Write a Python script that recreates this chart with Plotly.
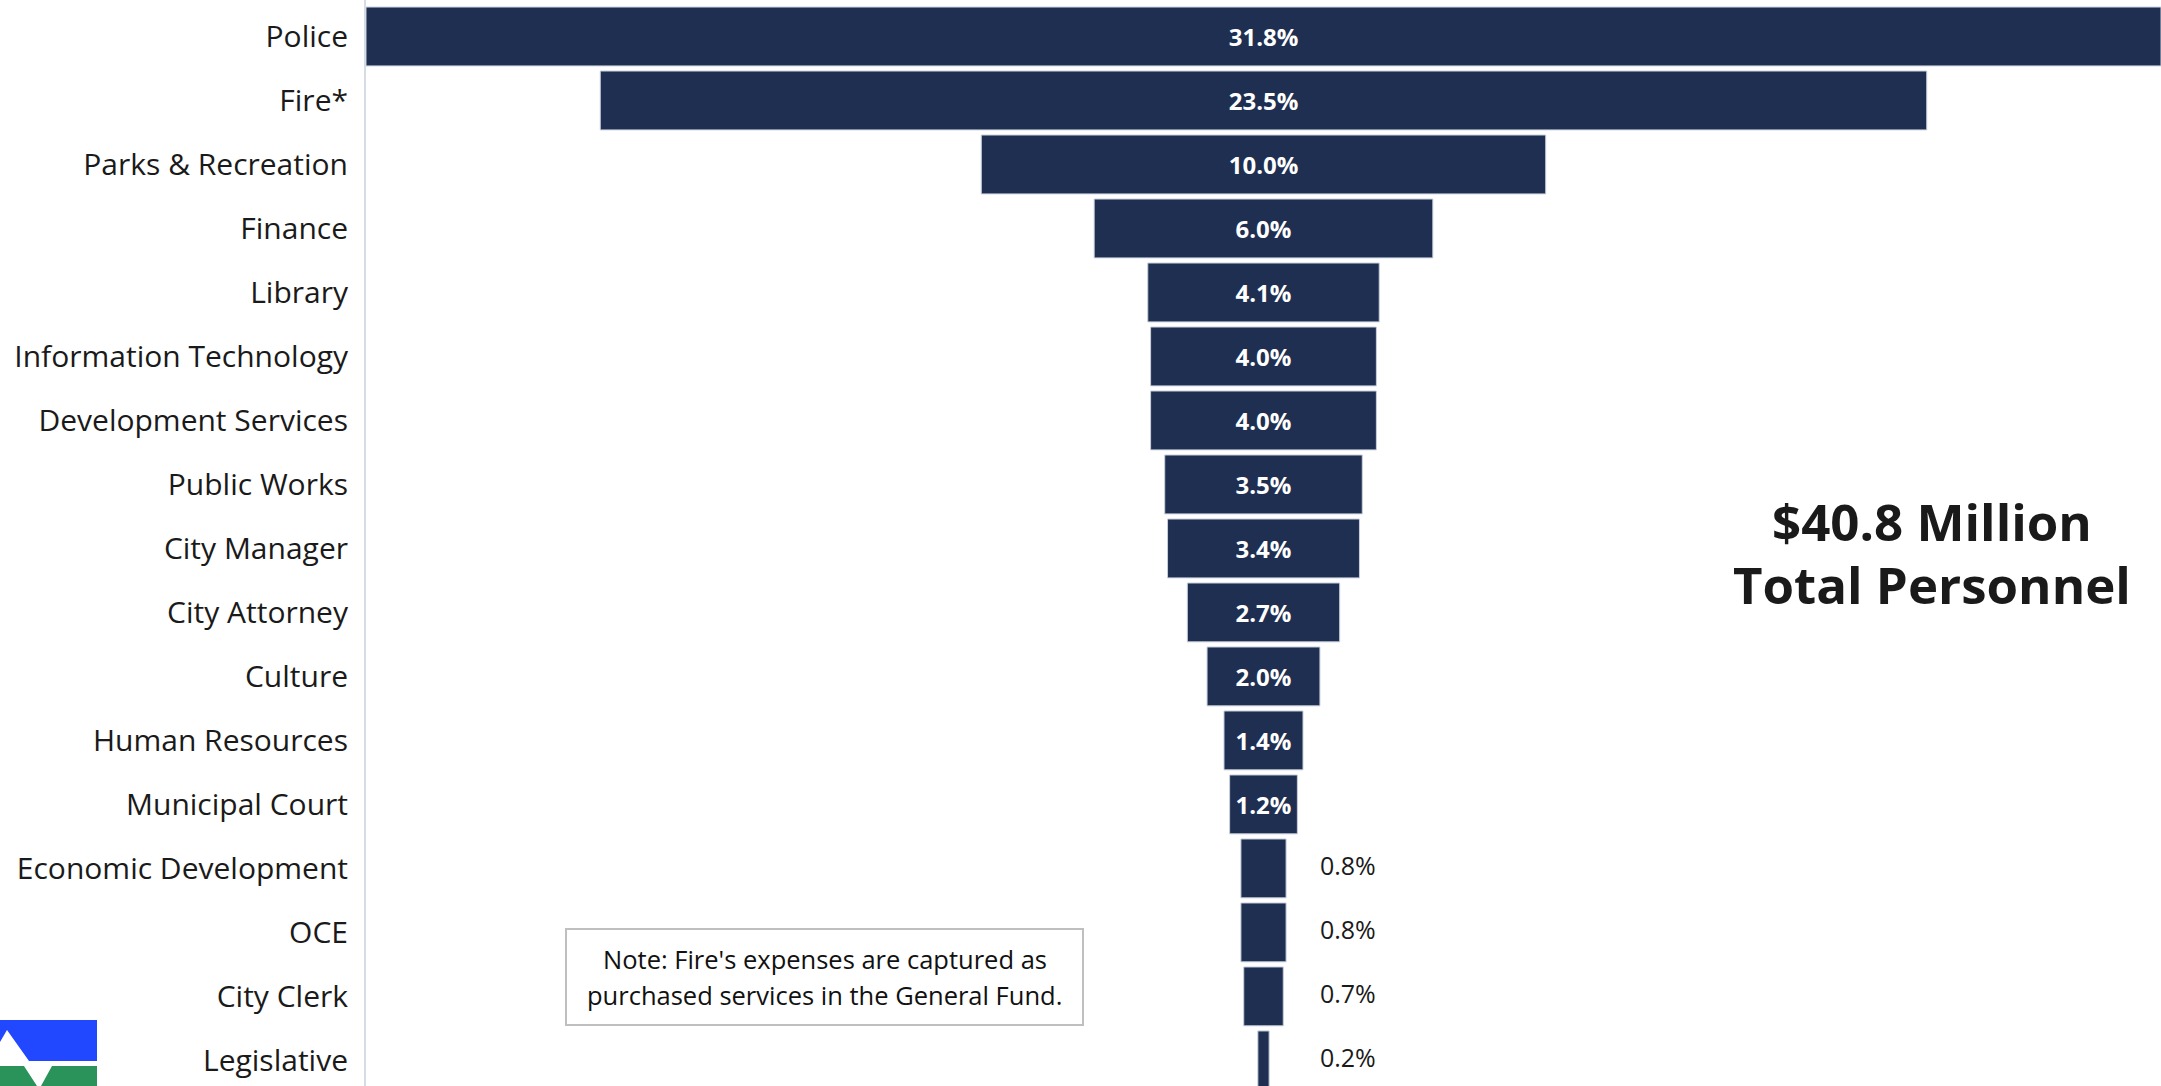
import plotly.graph_objects as go

W, H = 2161, 1086

departments = ["Police", "Fire*", "Parks & Recreation", "Finance", "Library",
               "Information Technology", "Development Services", "Public Works",
               "City Manager", "City Attorney", "Culture", "Human Resources",
               "Municipal Court", "Economic Development", "OCE", "City Clerk",
               "Legislative"]
share_pct = [31.8, 23.5, 10.0, 6.0, 4.1, 4.0, 4.0, 3.5, 3.4, 2.7, 2.0, 1.4,
             1.2, 0.8, 0.8, 0.7, 0.2]
inside_threshold = 1.0

total_lines = ["$40.8 Million", "Total Personnel"]
note_lines = ["Note: Fire's expenses are captured as",
              "purchased services in the General Fund."]

BAR = "#1F2F52"
FONT = "Open Sans"

labels = [f"{v:.1f}%" for v in share_pct]
inside_text = [t if v > inside_threshold else "" for t, v in zip(labels, share_pct)]
small_idx = [i for i, v in enumerate(share_pct) if v <= inside_threshold]

fig = go.Figure()
fig.add_trace(go.Bar(
    y=departments, x=share_pct, base=[-v / 2 for v in share_pct],
    orientation="h",
    marker=dict(color=BAR, line=dict(color="#c9d0dc", width=1)),
    text=inside_text, textposition="inside", insidetextanchor="middle",
    textangle=0, constraintext="none",
    insidetextfont=dict(family=FONT, size=24, color="white", weight=700),
    hoverinfo="skip", showlegend=False,
))
fig.add_trace(go.Scatter(
    y=[departments[i] for i in small_idx],
    x=[1.0 for _ in small_idx],
    text=[labels[i] for i in small_idx],
    mode="text", textposition="middle right",
    textfont=dict(family=FONT, size=25, color="#1a1a1a"),
    hoverinfo="skip", showlegend=False,
))

def px_path(points):
    s = ""
    for k, (x, y) in enumerate(points):
        s += ("M" if k == 0 else "L") + f"{x / W:.5f},{1 - y / H:.5f} "
    return s + "Z"

shapes = [
    # note box
    dict(type="rect", xref="paper", yref="paper",
         x0=566 / W, x1=1083 / W, y0=1 - 1025 / H, y1=1 - 929 / H,
         line=dict(color="#bfbfbf", width=2), fillcolor="white", layer="above"),
    # logo
    dict(type="path", xref="paper", yref="paper",
         path=px_path([(0, 1020), (97, 1020), (97, 1062), (0, 1062)]),
         fillcolor="#2148FF", line=dict(width=0), layer="above"),
    dict(type="path", xref="paper", yref="paper",
         path=px_path([(0, 1066), (97, 1066), (97, 1086), (0, 1086)]),
         fillcolor="#2A935A", line=dict(width=0), layer="above"),
    dict(type="path", xref="paper", yref="paper",
         path=px_path([(0, 1042), (7, 1030), (29, 1061), (97, 1061), (97, 1066),
                       (52, 1066), (41, 1086), (37, 1086), (22, 1063), (0, 1066)]),
         fillcolor="white", line=dict(width=0), layer="above"),
]

annotations = []
for line, ypix in zip(total_lines, [521, 584]):
    annotations.append(dict(xref="paper", yref="paper", x=1932 / W, y=1 - ypix / H,
                            xanchor="center", yanchor="middle",
                            text=f"<b>{line}</b>", showarrow=False, align="center",
                            font=dict(family=FONT, size=51, color="#1a1a1a")))
for line, ypix in zip(note_lines, [959, 995]):
    annotations.append(dict(xref="paper", yref="paper", x=824.5 / W, y=1 - ypix / H,
                            xanchor="center", yanchor="middle",
                            text=line, showarrow=False, align="center",
                            font=dict(family=FONT, size=25.5, color="#111111")))

fig.update_layout(
    width=W, height=H, margin=dict(l=0, r=0, t=0, b=0),
    paper_bgcolor="white", plot_bgcolor="white",
    bargap=0.08, barmode="overlay",
    xaxis=dict(domain=[366 / W, 1], range=[-15.9, 15.9], visible=False,
               fixedrange=True),
    yaxis=dict(categoryorder="array", categoryarray=departments,
               range=[16.4, -0.57], automargin=False, showgrid=False,
               showline=True, linecolor="#d5dce6", linewidth=2,
               ticks="", ticklabelstandoff=10, fixedrange=True,
               tickfont=dict(family=FONT, size=30, color="#1a1a1a")),
    shapes=shapes, annotations=annotations,
    font=dict(family=FONT),
)

fig.write_html("out.html", config={"displayModeBar": False},
               post_script="document.body.style.margin='0';document.body.style.overflow='hidden';")
